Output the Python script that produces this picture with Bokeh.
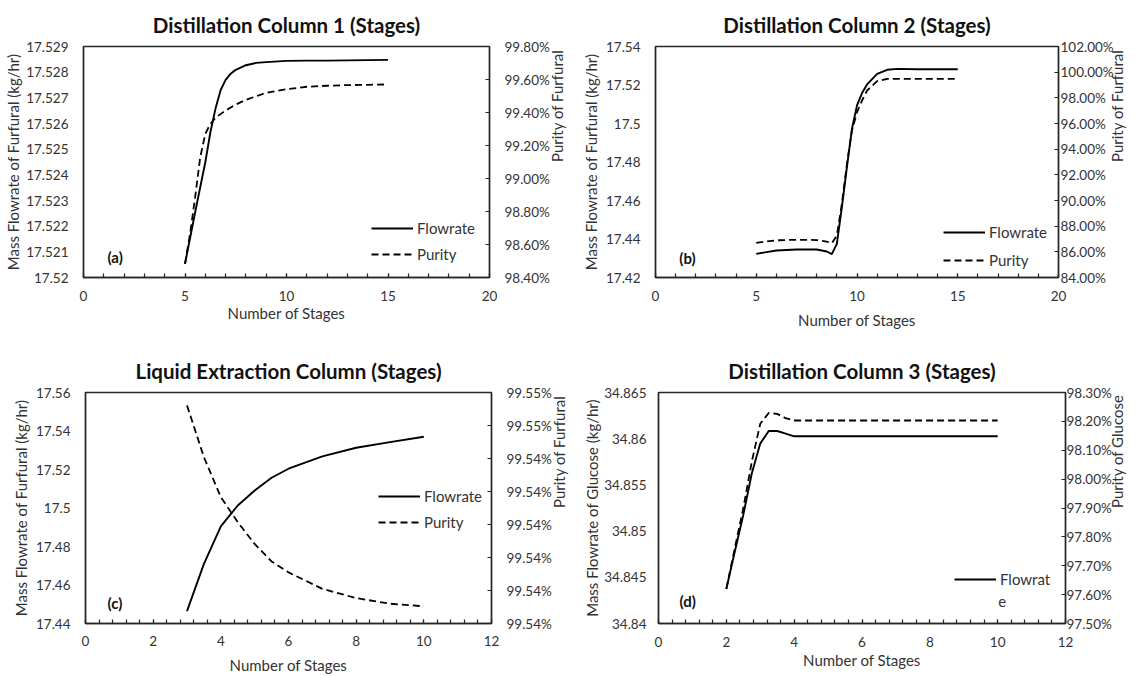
import math
from bokeh.plotting import figure
from bokeh.models import Range1d, LinearAxis, FixedTicker, Legend, LegendItem, Label
from bokeh.layouts import row, column
from bokeh.embed import file_html
from bokeh.resources import INLINE

# ---------------- data ----------------
# (a) Distillation Column 1
a_flow_x = [5, 5.5, 6, 6.25, 6.5, 6.75, 7, 7.25, 7.5, 8, 8.5, 9, 10, 11, 12, 13, 14, 15]
a_flow = [17.52053, 17.52254, 17.52449, 17.52566, 17.52657, 17.52729, 17.52770, 17.52794,
          17.52809, 17.52827, 17.52836, 17.52839, 17.52844, 17.52845, 17.52845, 17.52846,
          17.52847, 17.52848]
a_pur_x = [5, 5.25, 5.5, 5.75, 6, 6.25, 6.5, 7, 7.5, 8, 9, 10, 11, 12, 13, 14, 15]
a_pur = [98.483, 98.665, 98.887, 99.129, 99.271, 99.331, 99.368, 99.412, 99.448, 99.477,
         99.519, 99.541, 99.556, 99.562, 99.566, 99.568, 99.570]
a_left_ticks = [17.52, 17.521, 17.522, 17.523, 17.524, 17.525, 17.526, 17.527, 17.528, 17.529]
a_left_labels = ["17.52", "17.521", "17.522", "17.523", "17.524", "17.525", "17.526",
                 "17.527", "17.528", "17.529"]
a_right_ticks = [98.4, 98.6, 98.8, 99.0, 99.2, 99.4, 99.6, 99.8]
a_right_labels = ["98.40%", "98.60%", "98.80%", "99.00%", "99.20%", "99.40%", "99.60%", "99.80%"]

# (b) Distillation Column 2
b_x = [5, 6, 7, 8, 8.5, 8.75, 9, 9.25, 9.5, 9.75, 10, 10.25, 10.5, 11, 11.5, 12, 13, 14, 15]
b_flow = [17.4323, 17.4340, 17.43455, 17.43455, 17.4335, 17.4321, 17.4375, 17.4565, 17.4773,
          17.4973, 17.5094, 17.5158, 17.5203, 17.5258, 17.5279, 17.5284, 17.5282, 17.5282, 17.5282]
b_pur = [86.70, 86.90, 86.94, 86.92, 86.80, 86.67, 87.27, 89.74, 92.86, 95.45, 96.88, 97.79,
         98.57, 99.30, 99.48, 99.48, 99.48, 99.48, 99.48]
b_left_ticks = [17.42, 17.44, 17.46, 17.48, 17.5, 17.52, 17.54]
b_left_labels = ["17.42", "17.44", "17.46", "17.48", "17.5", "17.52", "17.54"]
b_right_ticks = [84, 86, 88, 90, 92, 94, 96, 98, 100, 102]
b_right_labels = ["84.00%", "86.00%", "88.00%", "90.00%", "92.00%", "94.00%", "96.00%",
                  "98.00%", "100.00%", "102.00%"]

# (c) Liquid Extraction Column
c_x = [3, 3.5, 4, 4.5, 5, 5.5, 6, 7, 8, 9, 10]
c_flow = [17.4464, 17.4710, 17.4905, 17.5013, 17.5091, 17.5157, 17.5204, 17.5268, 17.5313,
          17.5342, 17.5370]
c_pur = [99.54661, 99.54504, 99.54383, 99.54307, 99.54241, 99.54188, 99.54155, 99.54105,
         99.54077, 99.54060, 99.54052]
c_left_ticks = [17.44, 17.46, 17.48, 17.5, 17.52, 17.54, 17.56]
c_left_labels = ["17.44", "17.46", "17.48", "17.5", "17.52", "17.54", "17.56"]
c_right_ticks = [99.540, 99.541, 99.542, 99.543, 99.544, 99.545, 99.546, 99.547]
c_right_labels = ["99.54%", "99.54%", "99.54%", "99.54%", "99.54%", "99.54%", "99.55%", "99.55%"]

# (d) Distillation Column 3
d_x = [2, 2.25, 2.5, 2.75, 3, 3.25, 3.5, 3.75, 4, 5, 6, 7, 8, 9, 10]
d_flow = [34.84374, 34.8478, 34.85175, 34.85624, 34.85947, 34.86083, 34.86083, 34.86055,
          34.86026, 34.86026, 34.86026, 34.86026, 34.86026, 34.86026, 34.86026]
d_pur = [97.620, 97.761, 97.899, 98.060, 98.192, 98.229, 98.226, 98.211, 98.203, 98.203,
         98.203, 98.203, 98.203, 98.203, 98.203]
d_left_ticks = [34.84, 34.845, 34.85, 34.855, 34.86, 34.865]
d_left_labels = ["34.84", "34.845", "34.85", "34.855", "34.86", "34.865"]
d_right_ticks = [97.5, 97.6, 97.7, 97.8, 97.9, 98.0, 98.1, 98.2, 98.3]
d_right_labels = ["97.50%", "97.60%", "97.70%", "97.80%", "97.90%", "98.00%", "98.10%",
                  "98.20%", "98.30%"]

# ---------------- styling ----------------
FONT = "Lato"
TXT = "#333333"
LINE = "#262626"
TICK_FS = "13.5px"
AXT_FS = "15px"


def panel(title, fx, fy, px, py, xmax, xmajor, xminor, lt, ll, rt, rl, ltitle, rtitle,
          borders, size, title_standoff, xlab_standoff, xtitle_standoff,
          l_lab_standoff, lt_standoff, r_lab_standoff, r_title_standoff,
          legend_loc, legend_spacing, legend_labels, tag, tag_xy):
    bl, br, bt, bb = borders
    w, h = size
    p = figure(width=w, height=h, output_backend="svg", toolbar_location=None,
               x_range=Range1d(0, xmax), y_range=Range1d(lt[0], lt[-1]),
               min_border_left=bl, min_border_right=br, min_border_top=bt, min_border_bottom=bb,
               background_fill_color="white", border_fill_color="white")
    p.title.text = title
    p.title.align = "center"
    p.title.text_font = FONT
    p.title.text_font_size = "20.5px"
    p.title.text_font_style = "bold"
    p.title.text_color = "#111111"
    p.title.standoff = title_standoff
    p.xgrid.visible = False
    p.ygrid.visible = False
    p.outline_line_color = LINE
    p.outline_line_width = 1.4

    p.extra_y_ranges = {"pct": Range1d(rt[0], rt[-1])}

    r1 = p.line(fx, fy, line_color="black", line_width=1.9)
    r2 = p.line(px, py, line_color="black", line_width=1.8, line_dash="7 4", y_range_name="pct")

    # x axis
    xa = p.xaxis[0]
    xa.ticker = FixedTicker(ticks=xmajor, minor_ticks=xminor)
    xa.axis_label = "Number of Stages"
    xa.major_tick_in = 4
    xa.major_tick_out = 0
    xa.minor_tick_in = 4
    xa.minor_tick_out = 0
    xa.major_label_standoff = xlab_standoff
    xa.axis_label_standoff = xtitle_standoff

    # left axis
    ya = p.yaxis[0]
    ya.ticker = FixedTicker(ticks=lt)
    ya.major_label_overrides = {t: s for t, s in zip(lt, ll)}
    ya.axis_label = ltitle
    ya.major_tick_in = 0
    ya.major_tick_out = 0
    ya.major_label_standoff = l_lab_standoff
    ya.axis_label_standoff = lt_standoff

    # right axis (secondary, percent), title reading bottom-to-top
    ra = LinearAxis(y_range_name="pct", ticker=FixedTicker(ticks=rt),
                    major_label_overrides={t: s for t, s in zip(rt, rl)})
    ra.major_tick_in = 4
    ra.major_tick_out = 0
    ra.major_label_standoff = r_lab_standoff
    ra.axis_label = rtitle
    ra.axis_label_standoff = r_title_standoff
    if "axis_label_orientation" in ra.properties():
        ra.axis_label_orientation = math.pi / 2
    p.add_layout(ra, "right")

    for ax in [xa, ya, ra]:
        ax.axis_line_color = LINE
        ax.axis_line_width = 1.4
        ax.major_tick_line_color = LINE
        ax.major_tick_line_width = 1.2
        ax.minor_tick_line_width = 1.2
        ax.minor_tick_line_color = None
        ax.major_label_text_font = FONT
        ax.major_label_text_font_size = TICK_FS
        ax.major_label_text_color = TXT
        ax.axis_label_text_font = FONT
        ax.axis_label_text_font_size = AXT_FS
        ax.axis_label_text_font_style = "normal"
        ax.axis_label_text_color = TXT
    ya.major_tick_line_color = None
    xa.minor_tick_line_color = LINE

    items = [LegendItem(label=legend_labels[0], renderers=[r1])]
    if len(legend_labels) > 1:
        items.append(LegendItem(label=legend_labels[1], renderers=[r2]))
    leg = Legend(items=items, location=legend_loc, orientation="vertical", padding=0, margin=0,
                 spacing=legend_spacing, glyph_width=42, glyph_height=20, label_height=20,
                 label_standoff=4, border_line_color=None, background_fill_alpha=0,
                 label_text_font=FONT, label_text_font_size="15px", label_text_color=TXT)
    p.add_layout(leg)

    p.add_layout(Label(x=tag_xy[0], y=tag_xy[1], text=tag, text_font=FONT,
                       text_font_size="15px", text_font_style="bold", text_color="#111111",
                       text_baseline="middle", text_align="left"))
    return p


minor20 = list(range(0, 21))
minor12 = [i * 0.4 for i in range(31)]

pa = panel("Distillation Column 1 (Stages)", a_flow_x, a_flow, a_pur_x, a_pur, 20,
           [0, 5, 10, 15, 20], minor20, a_left_ticks, a_left_labels, a_right_ticks,
           a_right_labels, "Mass Flowrate of Furfural (kg/hr)", "Purity of Furfural",
           (83, 88, 46, 61), (577, 338), 20, 13, 0, 15, 1, 15, 4, (288, 13), 6,
           ["Flowrate", "Purity"], "(a)", (1.18, 17.52078))

pb = panel("Distillation Column 2 (Stages)", b_x, b_flow, b_x, b_pur, 20,
           [0, 5, 10, 15, 20], minor20, b_left_ticks, b_left_labels, b_right_ticks,
           b_right_labels, "Mass Flowrate of Furfural (kg/hr)", "Purity of Furfural",
           (78, 77, 46, 61), (560, 338), 20, 13, 7, 15, 3, 2, 0, (288, 7), 8,
           ["Flowrate", "Purity"], "(b)", (1.18, 17.4299))

pc = panel("Liquid Extraction Column (Stages)", c_x, c_flow, c_x, c_pur, 12,
           [0, 2, 4, 6, 8, 10, 12], minor12, c_left_ticks, c_left_labels, c_right_ticks,
           c_right_labels, "Mass Flowrate of Furfural (kg/hr)", "Purity of Furfural",
           (85, 88, 54, 53), (579, 338), 20, 12, 7, 15, 3, 15, 4, (293, 91), 6,
           ["Flowrate", "Purity"], "(c)", (0.65, 17.4509))

pd_ = panel("Distillation Column 3 (Stages)", d_x, d_flow, d_x, d_pur, 12,
            [0, 2, 4, 6, 8, 10, 12], minor12, d_left_ticks, d_left_labels, d_right_ticks,
            d_right_labels, "Mass Flowrate of Glucose (kg/hr)", "Purity of Glucose",
            (79, 71, 54, 53), (558, 338), 20, 13, 1, 12, 0, 1, 2, (296, 34), 6,
            ["Flowrat"], "(d)", (0.62, 34.8424))
pd_.add_layout(Label(x=10.02, y=34.84238, text="e", text_font=FONT, text_font_size="15px",
                     text_color=TXT, text_baseline="middle", text_align="left"))

layout = column(row(pa, pb), row(pc, pd_))
open("out.html", "w").write(file_html(layout, INLINE))
